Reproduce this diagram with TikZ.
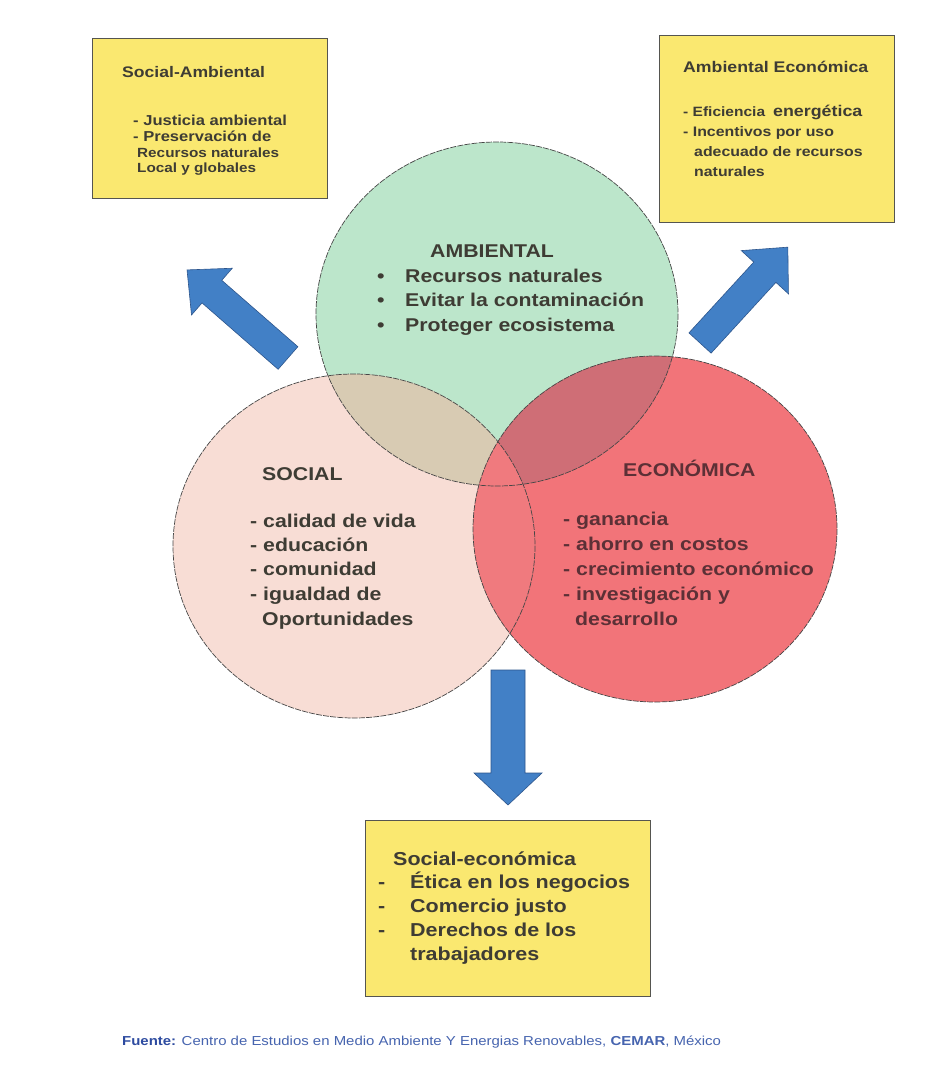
\documentclass[tikz,border=0pt]{standalone}
\usepackage{fontspec}
\setmainfont{Liberation Sans}[FakeStretch=1.15]
\definecolor{greenfill}{RGB}{188,230,203}
\definecolor{pinkfill}{RGB}{248,221,213}
\definecolor{redfill}{RGB}{242,116,121}
\definecolor{tanfill}{RGB}{216,203,179}
\definecolor{grfill}{RGB}{207,110,118}
\definecolor{srfill}{RGB}{240,122,126}
\definecolor{boxyellow}{RGB}{250,232,112}
\definecolor{boxline}{RGB}{85,85,80}
\definecolor{ringline}{RGB}{70,70,70}
\definecolor{arrowblue}{RGB}{66,128,198}
\definecolor{arrowline}{RGB}{45,85,140}
\definecolor{textgray}{RGB}{62,60,52}
\definecolor{textred}{RGB}{92,48,54}
\definecolor{footblue}{RGB}{70,100,175}
\definecolor{footdark}{RGB}{45,75,160}
\newcommand\fatarrow[6]{%
  \draw[fat, shift={(#1)}, rotate=#2] (0,-#4) -- ({#3-#6},-#4) -- ({#3-#6},-#5) -- (#3,0)
    -- ({#3-#6},#5) -- ({#3-#6},#4) -- (0,#4) -- cycle;}
\begin{document}
\begin{tikzpicture}[x=1pt,y=-1pt,
  txt/.style={anchor=base west, inner sep=0pt, text=textgray},
  box/.style={draw=boxline, line width=1.1pt, fill=boxyellow, inner sep=0pt, anchor=north west},
  ring/.style={draw=ringline, line width=0.7pt, dash pattern=on 6pt off 1.2pt},
  fat/.style={fill=arrowblue, draw=arrowline, line width=0.6pt, line join=miter}]
\useasboundingbox (0,0) rectangle (948,1086);
\fill[white] (0,0) rectangle (948,1086);

% circle centres
\coordinate (cA) at (497,314);
\coordinate (cS) at (354,546);
\coordinate (cE) at (655,529);

% fills
\fill[greenfill] (cA) ellipse [x radius=181, y radius=172];
\fill[pinkfill] (cS) ellipse [x radius=181, y radius=172];
\fill[redfill] (cE) ellipse [x radius=182, y radius=173];
\begin{scope}
  \clip (cA) ellipse [x radius=181, y radius=172];
  \fill[tanfill] (cS) ellipse [x radius=181, y radius=172];
  \fill[grfill] (cE) ellipse [x radius=182, y radius=173];
\end{scope}
\begin{scope}
  \clip (cS) ellipse [x radius=181, y radius=172];
  \fill[srfill] (cE) ellipse [x radius=182, y radius=173];
\end{scope}
% outlines
\draw[ring] (cA) ellipse [x radius=181, y radius=172];
\draw[ring] (cS) ellipse [x radius=181, y radius=172];
\draw[ring] (cE) ellipse [x radius=182, y radius=173];

% boxes
\node[box, minimum width=235pt, minimum height=160pt] (bSA) at (92,38) {};
\node[box, minimum width=235pt, minimum height=187pt] (bAE) at (659,35) {};
\node[box, minimum width=285pt, minimum height=176pt] (bSE) at (365,820) {};

% arrows
\coordinate (tailL) at (288,358);
\coordinate (tailR) at (700,343);
\coordinate (tailD) at (508,670);
\fatarrow{tailL}{138.9}{134}{15}{31}{33}
\fatarrow{tailR}{47.5}{130}{15}{32}{34}
\fatarrow{tailD}{-90}{135}{17}{34}{32}

% box 1 text
\node[txt, font=\fontsize{15.3}{17}\selectfont\bfseries] (sa0) at (122,78) {Social-Ambiental};
\node[txt, font=\fontsize{14.4}{17}\selectfont\bfseries] (sa1) at (133,126) {- Justicia ambiental};
\node[txt, font=\fontsize{14.4}{17}\selectfont\bfseries] (sa2) at (133,142) {- Preservación de};
\node[txt, font=\fontsize{13.3}{15}\selectfont\bfseries] (sa3) at (137,158) {Recursos naturales};
\node[txt, font=\fontsize{13.3}{15}\selectfont\bfseries] (sa4) at (137,173) {Local y globales};

% box 2 text
\node[txt, font=\fontsize{15.4}{17}\selectfont\bfseries] (ae0) at (683,73) {Ambiental Económica};
\node[txt, font=\fontsize{13.5}{16}\selectfont\bfseries] (ae1) at (683,117) {- Eficiencia\hspace{8pt}{\fontsize{15.5}{17}\selectfont energética}};
\node[txt, font=\fontsize{13.8}{16}\selectfont\bfseries] (ae2) at (683,137) {- Incentivos por uso};
\node[txt, font=\fontsize{13.8}{16}\selectfont\bfseries] (ae3) at (694,157) {adecuado de recursos};
\node[txt, font=\fontsize{13.8}{16}\selectfont\bfseries] (ae4) at (694,177) {naturales};

% box 3 text
\node[txt, font=\fontsize{18.7}{22}\selectfont\bfseries] (se0) at (393,865) {Social-económica};
\node[txt, font=\fontsize{18.7}{22}\selectfont\bfseries] (sd1) at (378,888) {-};
\node[txt, font=\fontsize{18.7}{22}\selectfont\bfseries] (sd2) at (378,912) {-};
\node[txt, font=\fontsize{18.7}{22}\selectfont\bfseries] (sd3) at (378,936) {-};
\node[txt, font=\fontsize{18.7}{22}\selectfont\bfseries] (se1) at (410,888) {Ética en los negocios};
\node[txt, font=\fontsize{18.7}{22}\selectfont\bfseries] (se2) at (410,912) {Comercio justo};
\node[txt, font=\fontsize{18.7}{22}\selectfont\bfseries] (se3) at (410,936) {Derechos de los};
\node[txt, font=\fontsize{18.7}{22}\selectfont\bfseries] (se4) at (410,960) {trabajadores};

% ambiental text
\node[txt, font=\fontsize{18.5}{22}\selectfont\bfseries] (a0) at (430,257) {AMBIENTAL};
\node[txt, font=\fontsize{18.5}{22}\selectfont\bfseries] (a1) at (377,282) {\makebox[28pt][l]{\textbullet}Recursos naturales};
\node[txt, font=\fontsize{18.5}{22}\selectfont\bfseries] (a2) at (377,306) {\makebox[28pt][l]{\textbullet}Evitar la contaminación};
\node[txt, font=\fontsize{18.5}{22}\selectfont\bfseries] (a3) at (377,331) {\makebox[28pt][l]{\textbullet}Proteger ecosistema};

% social text
\node[txt, font=\fontsize{18.5}{22}\selectfont\bfseries] (s0) at (262,480) {SOCIAL};
\node[txt, font=\fontsize{18.5}{22}\selectfont\bfseries] (s1) at (250,527) {- calidad de vida};
\node[txt, font=\fontsize{18.5}{22}\selectfont\bfseries] (s2) at (250,551) {- educación};
\node[txt, font=\fontsize{18.5}{22}\selectfont\bfseries] (s3) at (250,575) {- comunidad};
\node[txt, font=\fontsize{18.5}{22}\selectfont\bfseries] (s4) at (250,600) {- igualdad de};
\node[txt, font=\fontsize{18.5}{22}\selectfont\bfseries] (s5) at (262,625) {Oportunidades};

% economica text
\node[txt, text=textred, font=\fontsize{18.5}{22}\selectfont\bfseries] (e0) at (623,476) {ECONÓMICA};
\node[txt, text=textred, font=\fontsize{18.5}{22}\selectfont\bfseries] (e1) at (563,525) {- ganancia};
\node[txt, text=textred, font=\fontsize{18.5}{22}\selectfont\bfseries] (e2) at (563,550) {- ahorro en costos};
\node[txt, text=textred, font=\fontsize{18.5}{22}\selectfont\bfseries] (e3) at (563,575) {- crecimiento económico};
\node[txt, text=textred, font=\fontsize{18.5}{22}\selectfont\bfseries] (e4) at (563,600) {- investigación y};
\node[txt, text=textred, font=\fontsize{18.5}{22}\selectfont\bfseries] (e5) at (575,625) {desarrollo};

% source
\node[txt, text=footblue, font=\fontsize{13}{15}\selectfont] (src) at (122,1045)
  {\textcolor{footdark}{\textbf{Fuente:}} Centro de Estudios en Medio Ambiente Y Energias Renovables, \textbf{CEMAR}, México};
\end{tikzpicture}
\end{document}
